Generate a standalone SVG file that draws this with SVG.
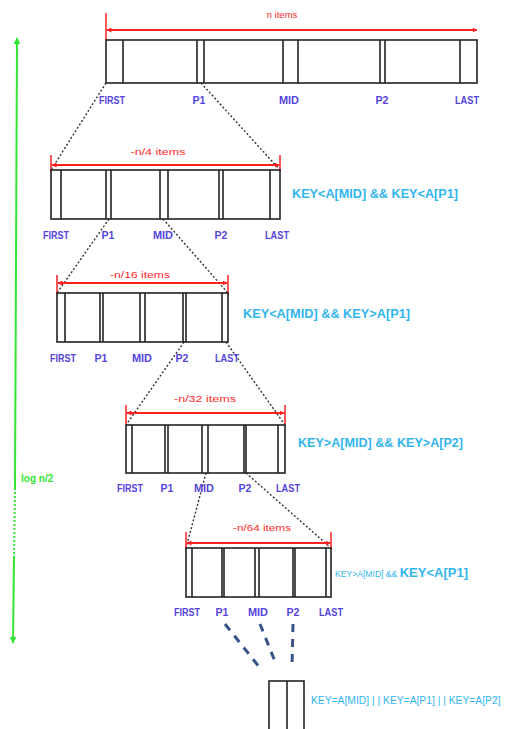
<svg xmlns="http://www.w3.org/2000/svg" width="509" height="729" viewBox="0 0 509 729">
<style>
.box{fill:#fff;stroke:#222;stroke-width:1.6}
.div{stroke:#222;stroke-width:1.6}
.lbl{font-family:"Liberation Sans",Arial,sans-serif;font-weight:bold;font-size:10.5px;fill:#5544dd;text-anchor:middle}
.red{font-family:"Liberation Sans",Arial,sans-serif;font-size:9.5px;fill:#ff2a2a;text-anchor:middle}
.cond{font-family:"Liberation Sans",Arial,sans-serif;font-weight:bold;font-size:13px;fill:#33b5ee}
.small{font-family:"Liberation Sans",Arial,sans-serif;font-weight:normal;font-size:10.3px;fill:#33b5ee}
.rarr{stroke:#ff2020;stroke-width:2;fill:none}
.tick{stroke:#ff2020;stroke-width:1.5}
.dot{stroke:#333;stroke-width:1.4;stroke-dasharray:2 2;fill:none}
.dash{stroke:#3a5488;stroke-width:3;stroke-dasharray:8 7;fill:none}
.grn{stroke:#33e633;stroke-width:2;fill:none}
</style>
<defs>
<marker id="ra" viewBox="0 0 10 10" refX="9" refY="5" markerWidth="5" markerHeight="5" orient="auto-start-reverse" markerUnits="userSpaceOnUse"><path d="M0,0 L10,5 L0,10 z" fill="#ff2020"/></marker>
<marker id="ga" viewBox="0 0 10 10" refX="9" refY="5" markerWidth="7" markerHeight="7" orient="auto-start-reverse" markerUnits="userSpaceOnUse"><path d="M0,0 L10,5 L0,10 z" fill="#33e633"/></marker>
</defs>

<g id="connectors">
<line class="dot" x1="106" y1="83" x2="51" y2="170"/>
<line class="dot" x1="201" y1="83" x2="280" y2="170"/>
<line class="dot" x1="109" y1="219" x2="57" y2="293"/>
<line class="dot" x1="163" y1="219" x2="228" y2="293"/>
<line class="dot" x1="184" y1="342" x2="126" y2="425"/>
<line class="dot" x1="226" y1="342" x2="285" y2="425"/>
<line class="dot" x1="206" y1="473" x2="186" y2="548"/>
<line class="dot" x1="246" y1="473" x2="331" y2="548"/>
<line class="dash" x1="225" y1="624" x2="260" y2="668"/>
<line class="dash" x1="260" y1="624" x2="276" y2="664"/>
<line class="dash" x1="293" y1="624" x2="292" y2="667"/>
</g>

<g id="log-axis">
<line class="grn" x1="17" y1="38" x2="15" y2="488" marker-start="url(#ga)"/>
<line class="grn" x1="15" y1="488" x2="14" y2="557" stroke-dasharray="2 2"/>
<line class="grn" x1="14" y1="557" x2="13" y2="643" marker-end="url(#ga)"/>
<text x="21" y="482" font-family="Liberation Sans,Arial,sans-serif" font-weight="bold" font-size="10" fill="#33e633">log n/2</text>
</g>

<g id="level1">
<line class="tick" x1="106" y1="13" x2="106" y2="40"/>
<line class="rarr" x1="107" y1="30" x2="477" y2="30" marker-start="url(#ra)" marker-end="url(#ra)"/>
<text class="red" x="282" y="18">n items</text>
<rect class="box" x="106" y="40" width="371" height="43"/>
<line class="div" x1="123" y1="40" x2="123" y2="83"/>
<line class="div" x1="197" y1="40" x2="197" y2="83"/>
<line class="div" x1="204" y1="40" x2="204" y2="83"/>
<line class="div" x1="283" y1="40" x2="283" y2="83"/>
<line class="div" x1="298" y1="40" x2="298" y2="83"/>
<line class="div" x1="380" y1="40" x2="380" y2="83"/>
<line class="div" x1="385" y1="40" x2="385" y2="83"/>
<line class="div" x1="460" y1="40" x2="460" y2="83"/>
<text class="lbl" x="112" y="104" textLength="26" lengthAdjust="spacingAndGlyphs">FIRST</text>
<text class="lbl" x="199" y="104">P1</text>
<text class="lbl" x="289" y="104" textLength="20" lengthAdjust="spacingAndGlyphs">MID</text>
<text class="lbl" x="382" y="104">P2</text>
<text class="lbl" x="467" y="104" textLength="24" lengthAdjust="spacingAndGlyphs">LAST</text>
</g>

<g id="level2">
<line class="tick" x1="51" y1="155" x2="51" y2="172"/>
<line class="tick" x1="280" y1="155" x2="280" y2="172"/>
<line class="rarr" x1="52" y1="165" x2="279" y2="165" marker-start="url(#ra)" marker-end="url(#ra)"/>
<text class="red" x="158" y="155" textLength="55" lengthAdjust="spacingAndGlyphs">-n/4 items</text>
<rect class="box" x="51" y="170" width="229" height="49"/>
<line class="div" x1="61" y1="170" x2="61" y2="219"/>
<line class="div" x1="106" y1="170" x2="106" y2="219"/>
<line class="div" x1="111" y1="170" x2="111" y2="219"/>
<line class="div" x1="160" y1="170" x2="160" y2="219"/>
<line class="div" x1="168" y1="170" x2="168" y2="219"/>
<line class="div" x1="219" y1="170" x2="219" y2="219"/>
<line class="div" x1="223" y1="170" x2="223" y2="219"/>
<line class="div" x1="270" y1="170" x2="270" y2="219"/>
<text class="lbl" x="56" y="239" textLength="26" lengthAdjust="spacingAndGlyphs">FIRST</text>
<text class="lbl" x="108" y="239">P1</text>
<text class="lbl" x="163" y="239" textLength="20" lengthAdjust="spacingAndGlyphs">MID</text>
<text class="lbl" x="221" y="239">P2</text>
<text class="lbl" x="277" y="239" textLength="24" lengthAdjust="spacingAndGlyphs">LAST</text>
<text class="cond" x="292" y="198" textLength="166" lengthAdjust="spacingAndGlyphs">KEY&lt;A[MID] &amp;&amp; KEY&lt;A[P1]</text>
</g>

<g id="level3">
<line class="tick" x1="57" y1="275" x2="57" y2="295"/>
<line class="tick" x1="228" y1="275" x2="228" y2="295"/>
<line class="rarr" x1="58" y1="283" x2="227" y2="283" marker-start="url(#ra)" marker-end="url(#ra)"/>
<text class="red" x="140" y="278" textLength="60" lengthAdjust="spacingAndGlyphs">-n/16 items</text>
<rect class="box" x="57" y="293" width="171" height="49"/>
<line class="div" x1="65" y1="293" x2="65" y2="342"/>
<line class="div" x1="100" y1="293" x2="100" y2="342"/>
<line class="div" x1="103" y1="293" x2="103" y2="342"/>
<line class="div" x1="140" y1="293" x2="140" y2="342"/>
<line class="div" x1="145" y1="293" x2="145" y2="342"/>
<line class="div" x1="183" y1="293" x2="183" y2="342"/>
<line class="div" x1="186" y1="293" x2="186" y2="342"/>
<line class="div" x1="222" y1="293" x2="222" y2="342"/>
<text class="lbl" x="63" y="362" textLength="26" lengthAdjust="spacingAndGlyphs">FIRST</text>
<text class="lbl" x="101" y="362">P1</text>
<text class="lbl" x="142" y="362" textLength="20" lengthAdjust="spacingAndGlyphs">MID</text>
<text class="lbl" x="182" y="362">P2</text>
<text class="lbl" x="227" y="362" textLength="24" lengthAdjust="spacingAndGlyphs">LAST</text>
<text class="cond" x="243" y="318" textLength="167" lengthAdjust="spacingAndGlyphs">KEY&lt;A[MID] &amp;&amp; KEY&gt;A[P1]</text>
</g>

<g id="level4">
<line class="tick" x1="126" y1="405" x2="126" y2="425"/>
<line class="tick" x1="285" y1="405" x2="285" y2="425"/>
<line class="rarr" x1="127" y1="413" x2="284" y2="413" marker-start="url(#ra)" marker-end="url(#ra)"/>
<text class="red" x="205" y="402" textLength="62" lengthAdjust="spacingAndGlyphs">-n/32 items</text>
<rect class="box" x="126" y="425" width="159" height="48"/>
<line class="div" x1="132" y1="425" x2="132" y2="473"/>
<line class="div" x1="165" y1="425" x2="165" y2="473"/>
<line class="div" x1="168" y1="425" x2="168" y2="473"/>
<line class="div" x1="202" y1="425" x2="202" y2="473"/>
<line class="div" x1="208" y1="425" x2="208" y2="473"/>
<line class="div" x1="244" y1="425" x2="244" y2="473"/>
<line class="div" x1="246" y1="425" x2="246" y2="473"/>
<line class="div" x1="278" y1="425" x2="278" y2="473"/>
<text class="lbl" x="130" y="492" textLength="26" lengthAdjust="spacingAndGlyphs">FIRST</text>
<text class="lbl" x="167" y="492">P1</text>
<text class="lbl" x="204" y="492" textLength="20" lengthAdjust="spacingAndGlyphs">MID</text>
<text class="lbl" x="245" y="492">P2</text>
<text class="lbl" x="288" y="492" textLength="24" lengthAdjust="spacingAndGlyphs">LAST</text>
<text class="cond" x="298" y="447" textLength="165" lengthAdjust="spacingAndGlyphs">KEY&gt;A[MID] &amp;&amp; KEY&gt;A[P2]</text>
</g>

<g id="level5">
<line class="tick" x1="186" y1="532" x2="186" y2="550"/>
<line class="tick" x1="331" y1="532" x2="331" y2="550"/>
<line class="rarr" x1="187" y1="543" x2="330" y2="543" marker-start="url(#ra)" marker-end="url(#ra)"/>
<text class="red" x="262" y="531" textLength="58" lengthAdjust="spacingAndGlyphs">-n/64 items</text>
<rect class="box" x="186" y="548" width="145" height="49"/>
<line class="div" x1="192" y1="548" x2="192" y2="597"/>
<line class="div" x1="222" y1="548" x2="222" y2="597"/>
<line class="div" x1="224" y1="548" x2="224" y2="597"/>
<line class="div" x1="255" y1="548" x2="255" y2="597"/>
<line class="div" x1="259" y1="548" x2="259" y2="597"/>
<line class="div" x1="293" y1="548" x2="293" y2="597"/>
<line class="div" x1="295" y1="548" x2="295" y2="597"/>
<line class="div" x1="326" y1="548" x2="326" y2="597"/>
<text class="lbl" x="187" y="616" textLength="26" lengthAdjust="spacingAndGlyphs">FIRST</text>
<text class="lbl" x="222" y="616">P1</text>
<text class="lbl" x="258" y="616" textLength="20" lengthAdjust="spacingAndGlyphs">MID</text>
<text class="lbl" x="293" y="616">P2</text>
<text class="lbl" x="331" y="616" textLength="24" lengthAdjust="spacingAndGlyphs">LAST</text>
<text class="cond" x="335" y="577"><tspan style="font-size:8.6px;font-weight:normal">KEY&gt;A[MID] &amp;&amp; </tspan><tspan>KEY&lt;A[P1]</tspan></text>
</g>

<g id="level6">
<rect class="box" x="269" y="681" width="35" height="60"/>
<line class="div" x1="287" y1="681" x2="287" y2="729"/>
<text class="small" x="311" y="704">KEY=A[MID] | | KEY=A[P1] | | KEY=A[P2]</text>
</g>
</svg>
